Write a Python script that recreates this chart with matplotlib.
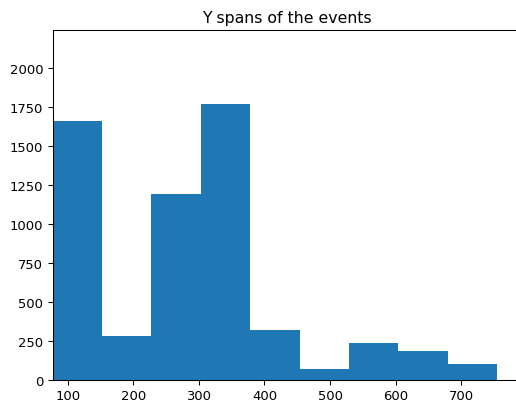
import numpy as np
import matplotlib
matplotlib.use("Agg")
import matplotlib.pyplot as plt

# histogram of the vertical extent of each event
bin_edges = [77.1, 152.4, 227.6, 302.9, 378.2, 453.5, 528.7, 604.0, 679.3, 754.5]
counts = [1658, 278, 1192, 1769, 317, 69, 237, 182, 99]

scale = 0.946
plt.rcParams['font.size'] = 10 * scale
plt.rcParams['axes.linewidth'] = 0.8 * scale
plt.rcParams['xtick.major.size'] = 3.5 * scale
plt.rcParams['ytick.major.size'] = 3.5 * scale
plt.rcParams['xtick.major.width'] = 0.8 * scale
plt.rcParams['ytick.major.width'] = 0.8 * scale

fig = plt.figure(figsize=(5.16, 4.02), dpi=100)
# axes run slightly past the right edge of the canvas
ax = fig.add_axes([52.7 / 516, 21.3 / 402, 469.3 / 516, 349.7 / 402])

ax.hist(bin_edges[:-1], bins=bin_edges, weights=counts, color='#1f77b4')
ax.set_xlim(77.1, 792.6)
ax.set_ylim(0, 2245)
ax.set_xticks([100, 200, 300, 400, 500, 600, 700])
ax.set_yticks([0, 250, 500, 750, 1000, 1250, 1500, 1750, 2000])
ax.set_title("Y spans of the events", fontsize=12 * scale)

fig.savefig("out.png", dpi=100)
